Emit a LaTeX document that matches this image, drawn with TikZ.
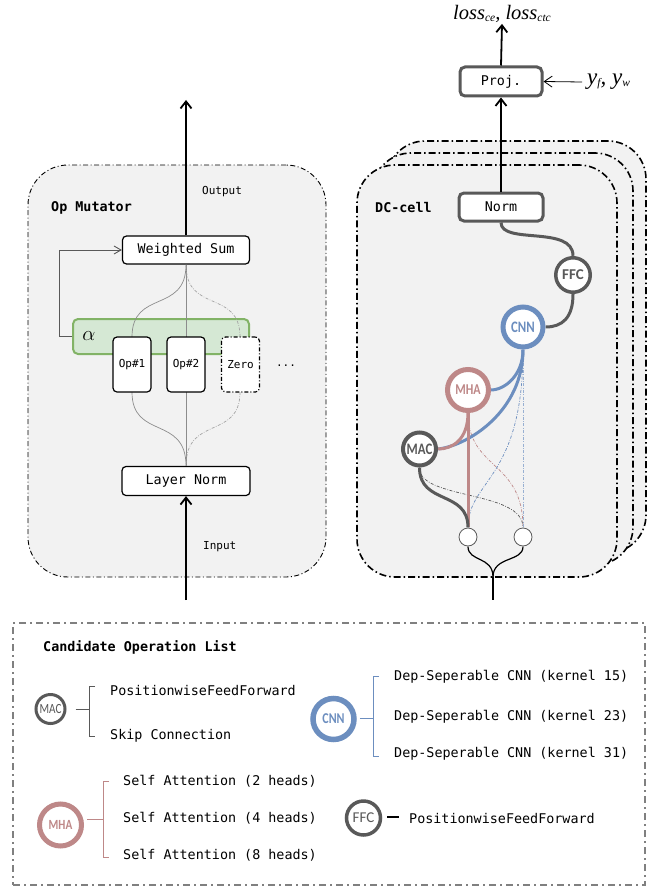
\documentclass[tikz,border=0pt]{standalone}
\usepackage{fontspec}
\setmonofont{DejaVu Sans Mono}
\newfontfamily\circfont[FakeStretch=0.8]{Carlito}
\newfontfamily\circwide{Carlito}
\newfontfamily\serifit{Liberation Serif}
\usetikzlibrary{arrows.meta}
\definecolor{bggray}{HTML}{F2F2F2}
\definecolor{darkg}{HTML}{595959}
\definecolor{cnnblue}{HTML}{6C8EBF}
\definecolor{mhapink}{RGB}{190,136,136}
\definecolor{agreen}{HTML}{D5E8D4}
\definecolor{agreenline}{HTML}{82B366}
\definecolor{leggray}{HTML}{808080}
\definecolor{curvegray}{HTML}{8C8C8C}
\newcommand\lsub[1]{\raisebox{-1.5pt}{\fontsize{11.5}{11.5}\selectfont #1}}
\begin{document}
\begin{tikzpicture}[x=1pt,y=-1pt,
  mono/.style={font=\fontsize{13.4}{16}\selectfont\ttfamily},
  monob/.style={font=\fontsize{13.4}{16}\selectfont\ttfamily\bfseries},
  small/.style={font=\fontsize{11}{13}\selectfont\ttfamily},
  txt/.style={inner sep=0pt,anchor=west},
  wbox/.style={draw=black,line width=1.2pt,fill=white,rounded corners=4pt,inner sep=0pt,mono},
  opbox/.style={draw=black,line width=1.2pt,fill=white,rounded corners=4pt,inner sep=0pt,small,minimum width=38,minimum height=55},
  bgbox/.style={draw=black,line width=0.9pt,dash pattern=on 5pt off 2.5pt on 1pt off 2.5pt,fill=bggray,rounded corners=40pt,inner sep=0pt},
  dcbox/.style={draw=black,line width=1.6pt,dash pattern=on 7pt off 3pt on 1.5pt off 3pt,fill=bggray,rounded corners=38pt,inner sep=0pt,minimum width=260,minimum height=412},
  pbox/.style={draw=darkg,line width=3pt,fill=white,rounded corners=5pt,inner sep=0pt,mono},
  circ/.style={circle,fill=white,inner sep=0pt},
  thickarrow/.style={line width=1.8pt,-{Straight Barb[length=7pt,width=11pt]}},
  thinarrow/.style={line width=0.8pt,-{Straight Barb[length=8pt,width=11pt]}},
  curveline/.style={draw=curvegray,line width=0.7pt},
  ddcurve/.style={line width=0.7pt,dash pattern=on 3pt off 1.5pt on 0.7pt off 1.5pt},
  conn/.style={line width=3pt},
  bracket/.style={line width=1pt}
]
\useasboundingbox (0,0) rectangle (656,888);
\fill[white] (0,0) rectangle (656,888);

% ---------------- Op Mutator ----------------
\node[bgbox,minimum width=298,minimum height=412] (opm) at (177,371) {};
\node[monob,txt] (optitle) at (51,208) {Op Mutator};
\node[small,txt] (outlbl) at (202,192) {Output};
\node[small,txt] (inlbl) at (203,547) {Input};

\node[wbox,minimum width=127,minimum height=28] (ws) at (186,250) {Weighted Sum};
\node[wbox,minimum width=128,minimum height=29] (ln) at (186,481) {Layer Norm};
\node[draw=agreenline,fill=agreen,line width=2pt,rounded corners=5pt,minimum width=176,minimum height=35,inner sep=0pt] (alpha) at (161,336.5) {};
\node (alab) at (89,336) {\fontsize{20}{20}\selectfont$\alpha$};

% curves
\draw[curveline] (132,392) .. controls (132,440) and (186,415) .. (ln.north);
\draw[curveline] (132,337) .. controls (132,289) and (186,314) .. (ws.south);
\draw[curveline] (ws.south) -- (ln.north);
\draw[curveline,draw=curvegray!80,ddcurve] (240,392) .. controls (240,440) and (186,415) .. (ln.north);
\draw[curveline,draw=curvegray!80,ddcurve] (240,337) .. controls (240,289) and (186,314) .. (ws.south);

\node[opbox] (op1) at (132,364.5) {Op\#1};
\node[opbox] (op2) at (186,364.5) {Op\#2};
\node[opbox,dash pattern=on 4pt off 2pt on 1pt off 2pt] (zero) at (240.5,364.5) {Zero};
\node[small] (dots) at (286,366) {...};

% feedback
\coordinate (fbc) at (59,250);
\draw[line width=0.9pt,draw=darkg,-{Straight Barb[length=7pt,width=8pt]}] (alpha.west) -| (fbc) -- (ws.west);

\coordinate (opout) at (186,100);
\coordinate (opin) at (186,600);
\draw[thickarrow] (ws.north) -- (opout);
\draw[thickarrow] (opin) -- (ln.south);

% ---------------- DC cell ----------------
\node[dcbox,minimum width=259] (dcb3) at (516.5,347) {};
\node[dcbox] (dcb2) at (503,359) {};
\node[dcbox] (dcf) at (487,371) {};
\node[monob,txt] (dctitle) at (375,208) {DC-cell};

\node[pbox,minimum width=84,minimum height=28] (norm) at (501,207) {Norm};
\node[pbox,minimum width=82,minimum height=29] (proj) at (501,81.5) {Proj.};
\node[inner sep=1pt] (loss) at (502,14) {\serifit\itshape\fontsize{20.5}{22}\selectfont loss\lsub{ce}, loss\lsub{ctc}};
\node[inner sep=0pt,anchor=west] (yfw) at (587,82) {\serifit\itshape\fontsize{23}{24}\selectfont y\lsub{f}, y\lsub{w}};

\draw[thickarrow] (norm.north) -- (proj.south);
\draw[thickarrow] (proj.north) -- (loss.south);
\coordinate (yfwtail) at (582,82);
\draw[thinarrow] (yfwtail) -- (proj.east);

% dash-dot candidate edges
\coordinate (maccen) at (419.5,449);
\node[circ,minimum size=37] (mac) at (maccen) {};
\node[circ,minimum size=45] (mha) at (468,390) {};
\node[circ,minimum size=45] (cnn) at (523,327) {};
\node[circ,minimum size=38] (ffc) at (573,275) {};
\node[circ,minimum size=18.8] (sl) at (468,537) {};
\node[circ,minimum size=18.8] (sr) at (523,537) {};

\draw[ddcurve,draw=darkg] (mac.south) .. controls (419,500) and (523,490) .. (sr.north);
\draw[ddcurve,draw=mhapink] (mha.south) .. controls (468,470) and (523,460) .. (sr.north);
\draw[ddcurve,draw=cnnblue] (cnn.south) .. controls (523,480) and (468,480) .. (sl.north);
\draw[ddcurve,draw=cnnblue!70] (cnn.south) -- (sr.north);

% chosen edges
\draw[conn,draw=darkg] (norm.south) .. controls (501,245) and (573,225) .. (ffc.north);
\draw[conn,draw=darkg] (ffc.south) .. controls (573,318) and (562,327) .. (cnn.east);
\draw[conn,draw=cnnblue] (cnn.south) .. controls (523,375) and (505,390) .. (mha.east);
\draw[conn,draw=cnnblue] (cnn.south) .. controls (523,410) and (470,445) .. (mac.east);
\draw[conn,draw=mhapink] (mha.south) .. controls (468,440) and (452,449) .. (mac.east);
\draw[conn,draw=mhapink] (mha.south) -- (sl.north);
\draw[conn,draw=darkg] (mac.south) .. controls (419.5,505) and (468,490) .. (sl.north);

% circles drawn over the edges
\node[circ,draw=darkg,line width=3.5pt,minimum size=34.5,font=\circwide\bfseries\fontsize{15}{16}\selectfont,text=darkg] (ffcc) at (ffc) {FFC};
\node[circ,draw=cnnblue,line width=5pt,minimum size=40,font=\circfont\bfseries\fontsize{16}{16}\selectfont,text=cnnblue] (cnnc) at (cnn) {CNN};
\node[circ,draw=mhapink,line width=5pt,minimum size=41,font=\circfont\bfseries\fontsize{15}{16}\selectfont,text=mhapink] (mhac) at (mha) {MHA};
\node[circ,draw=darkg,line width=4pt,minimum size=33,font=\circfont\bfseries\fontsize{16}{16}\selectfont,text=darkg] (macc) at (mac) {MAC};
\node[circ,draw=darkg,line width=0.8pt,minimum size=18] (slc) at (sl) {};
\node[circ,draw=darkg,line width=0.8pt,minimum size=18] (src) at (sr) {};

\coordinate (jn) at (493,577);
\coordinate (dcin) at (493,600);
\draw[line width=1.2pt] (sl.south) .. controls (468,562) and (493,556) .. (jn);
\draw[line width=1.2pt] (sr.south) .. controls (523,562) and (493,556) .. (jn);
\draw[line width=1.2pt] (jn) -- (dcin);

% ---------------- Legend ----------------
\node[draw=leggray,line width=2.2pt,dash pattern=on 7pt off 4pt on 2pt off 4pt,minimum width=632,minimum height=262,inner sep=0pt] (leg) at (329,754) {};
\node[monob,txt] (legtitle) at (43,647) {Candidate Operation List};

% MAC
\node[circ,draw=darkg,line width=3pt,minimum size=29,font=\circfont\fontsize{14}{15}\selectfont,text=darkg] (lmac) at (50.5,709) {MAC};
\coordinate (macbr) at (89,709);
\draw[bracket,draw=darkg] (95,686) -- (89,686) -- (89,736) -- (95,736);
\draw[bracket,draw=darkg] (lmac.east) ++(9,0) -- (macbr);
\node[mono,txt] (mac1) at (110,690) {PositionwiseFeedForward};
\node[mono,txt] (mac2) at (110,736) {Skip Connection};

% CNN
\node[circ,draw=cnnblue,line width=5.5pt,minimum size=41,font=\circfont\bfseries\fontsize{15}{16}\selectfont,text=cnnblue] (lcnn) at (333.5,719) {CNN};
\coordinate (cnnbr) at (373,718);
\draw[bracket,draw=cnnblue] (379,676) -- (373,676) -- (373,756) -- (379,756);
\draw[bracket,draw=cnnblue] (lcnn.east) ++(3,-1) -- (cnnbr);
\node[mono,txt] (cnn1) at (394,677) {Dep-Seperable CNN (kernel 15)};
\node[mono,txt] (cnn2) at (394,717) {Dep-Seperable CNN (kernel 23)};
\node[mono,txt] (cnn3) at (394,754) {Dep-Seperable CNN (kernel 31)};

% MHA
\node[circ,draw=mhapink,line width=5pt,minimum size=42,font=\circfont\bfseries\fontsize{14}{15}\selectfont,text=mhapink] (lmha) at (60.5,825) {MHA};
\coordinate (mhabr) at (103,819);
\draw[bracket,draw=mhapink] (109,781) -- (103,781) -- (103,857) -- (109,857);
\draw[bracket,draw=mhapink] (lmha.east) ++(3,-6) -- (mhabr);
\node[mono,txt] (mha1) at (123,781) {Self Attention (2 heads)};
\node[mono,txt] (mha2) at (123,818) {Self Attention (4 heads)};
\node[mono,txt] (mha3) at (123,855) {Self Attention (8 heads)};

% FFC
\node[circ,draw=darkg,line width=3.5pt,minimum size=34,font=\circwide\fontsize{15}{16}\selectfont,text=darkg] (lffc) at (363.5,818) {FFC};
\coordinate (ffcdash) at (399,817);
\draw[line width=1.4pt,draw=black] (lffc.east) ++(5,-1) -- (ffcdash);
\node[mono,txt] (ffc1) at (409,818) {PositionwiseFeedForward};
\end{tikzpicture}
\end{document}
